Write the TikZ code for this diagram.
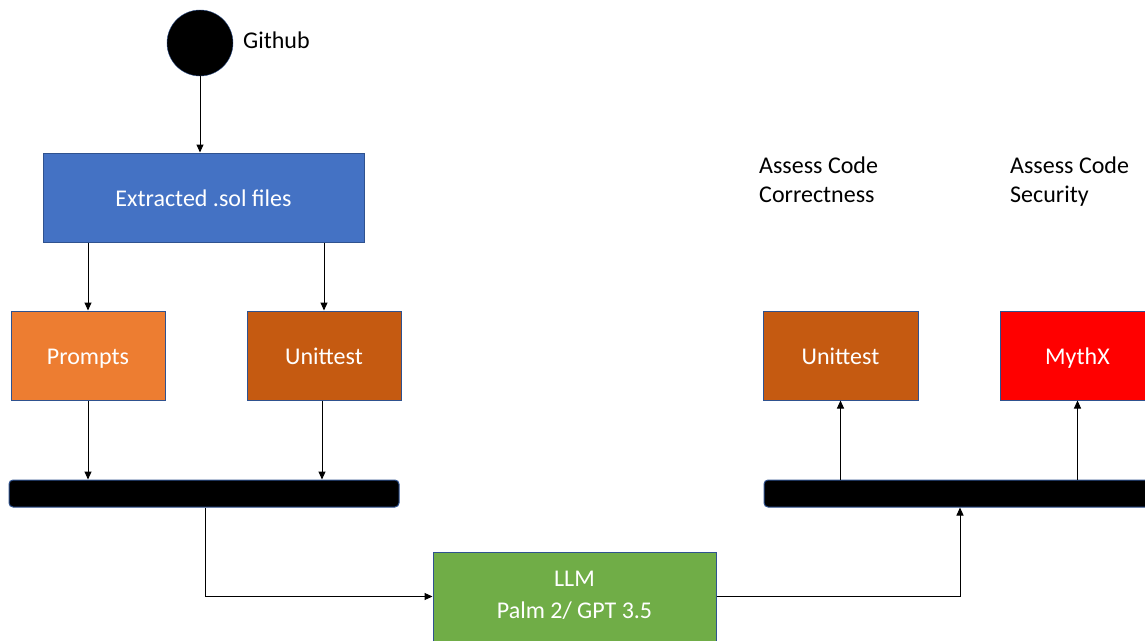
\documentclass[tikz,border=0pt]{standalone}
\usepackage{fontspec}
\setmainfont{Carlito}
\usetikzlibrary{arrows.meta}
\definecolor{boxblue}{HTML}{4472C4}
\definecolor{boxorange}{HTML}{ED7D31}
\definecolor{boxbrown}{HTML}{C55A11}
\definecolor{boxgreen}{HTML}{70AD47}
\definecolor{boxred}{HTML}{FF0000}
\definecolor{edge}{HTML}{2F528F}
\tikzset{
  block/.style = {draw = edge, line width = 1pt, text = white, inner sep = 0pt, align = center},
  stage/.style = {block, text height = 22pt, text depth = 4pt},
  bar/.style = {draw = edge, fill = black, rounded corners = 4pt, line width = 1pt, inner sep = 0pt},
  note/.style = {align = left, anchor = west, inner sep = 0pt},
  flow/.style = {line width = 1pt, -{Triangle[length=8pt,width=7pt]}}
}
\begin{document}
\begin{tikzpicture}[x = 1pt, y = -1pt, font = \fontsize{24}{29}\selectfont]
\useasboundingbox (0,0) rectangle (1145,640);
\clip (0,0) rectangle (1145,640);
% source
\node [circle, fill = black, draw = edge, minimum size = 66pt, inner sep = 0pt] (github) at (200,43) {};
\node [note] (githublabel) at (243,40) {Github};
\node [stage, fill = boxblue, minimum width = 321pt, minimum height = 89pt] (files) at (203.5,197.5) {Extracted .sol files};
% inputs
\node [stage, fill = boxorange, minimum width = 154pt, minimum height = 89pt] (prompts) at (88,355.5) {Prompts};
\node [stage, fill = boxbrown, minimum width = 154pt, minimum height = 89pt] (testin) at (324,355.5) {Unittest};
\node [bar, minimum width = 390pt, minimum height = 27pt] (leftbar) at (204,493.5) {};
% model
\node [block, fill = boxgreen, minimum width = 283pt, minimum height = 89pt, font = \fontsize{24}{32}\selectfont] (llm) at (574.5,596.5) {\strut LLM\\Palm 2/ GPT 3.5\strut};
% assessment
\node [bar, minimum width = 390pt, minimum height = 27pt] (rightbar) at (959,493.5) {};
\node [stage, fill = boxbrown, minimum width = 155pt, minimum height = 89pt] (testout) at (840.5,355.5) {Unittest};
\node [stage, fill = boxred, minimum width = 155pt, minimum height = 89pt] (mythx) at (1077.5,355.5) {MythX};
\node [note] (correct) at (759,180) {Assess Code\\Correctness};
\node [note] (secure) at (1010,182) {Assess Code\\Security};
% connectors
\draw [flow] (github.south) -- (files.north -| github.south);
\draw [flow] (files.south -| prompts.north) -- (prompts.north);
\draw [flow] (files.south -| testin.north) -- (testin.north);
\draw [flow] (prompts.south) -- (leftbar.north -| prompts.south);
\draw [flow] (testin.south -| 322,0) -- (leftbar.north -| 322,0);
\draw [flow] (leftbar.south -| 205,0) |- (llm.west);
\draw [flow] (llm.east) -| (rightbar.south -| 960,0);
\draw [flow] (rightbar.north -| testout.south) -- (testout.south);
\draw [flow] (rightbar.north -| mythx.south) -- (mythx.south);
\end{tikzpicture}
\end{document}
